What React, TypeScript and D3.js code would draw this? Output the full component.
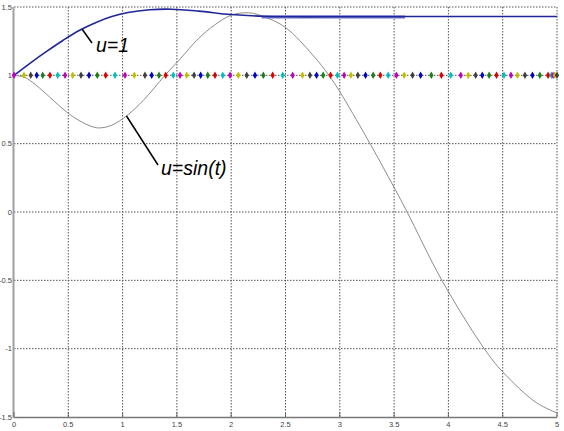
import React, { useEffect, useRef } from "react";
import * as d3 from "d3";

// simulation output
const tU1 = [0, 0.15, 0.3, 0.45, 0.6, 0.75, 0.9, 1.05, 1.25, 1.45, 1.7, 2.0, 2.3, 2.6, 3.0, 4.0, 5.0];
const yU1 = [1.0, 1.09, 1.175, 1.255, 1.328, 1.385, 1.43, 1.46, 1.48, 1.484, 1.47, 1.445, 1.432, 1.43, 1.43, 1.43, 1.43];

const tSin = [0, 0.1, 0.2, 0.33, 0.42, 0.52, 0.62, 0.7, 0.78, 0.9, 1.04, 1.19, 1.39, 1.53, 1.7, 1.85, 2.0, 2.16, 2.3, 2.5, 2.75, 2.9, 3.0, 3.25, 3.5, 3.62, 3.94, 4.33, 4.5, 4.81, 5.0];
const ySin = [1.0, 0.985, 0.93, 0.84, 0.775, 0.71, 0.66, 0.63, 0.615, 0.635, 0.706, 0.816, 1.0, 1.12, 1.27, 1.37, 1.44, 1.458, 1.43, 1.35, 1.15, 1.0, 0.88, 0.54, 0.18, 0.0, -0.5, -1.0, -1.17, -1.395, -1.47];

// solver time steps (markers on u = 1 reference)
const tSteps = [
  0, 0.092, 0.154, 0.209, 0.264, 0.331, 0.402, 0.47, 0.54, 0.617, 0.691, 0.767, 0.844, 0.93,
  1.022, 1.108, 1.206, 1.268, 1.335, 1.397, 1.467, 1.529, 1.59, 1.658, 1.719, 1.784, 1.851,
  1.922, 1.989, 2.066, 2.143, 2.219, 2.296, 2.382, 2.474, 2.566, 2.656, 2.725, 2.786, 2.847,
  2.915, 2.978, 3.04, 3.102, 3.166, 3.237, 3.307, 3.373, 3.445, 3.521, 3.593, 3.67, 3.744,
  3.843, 3.935, 4.022, 4.114, 4.182, 4.251, 4.312, 4.375, 4.443, 4.512, 4.576, 4.636, 4.705,
  4.774, 4.842, 4.918, 4.949, 4.964, 4.98, 5.0,
];
const markerColors = ["#bf00bf", "#bfbf00", "#404040", "#0000cc", "#1a7f1a", "#e00000", "#00bfbf"];

const xTicks = [0, 0.5, 1, 1.5, 2, 2.5, 3, 3.5, 4, 4.5, 5];
const yTicks = [-1.5, -1, -0.5, 0, 0.5, 1, 1.5];

export default function App() {
  const svgRef = useRef<SVGSVGElement>(null);

  useEffect(() => {
    if (!svgRef.current) return;
    const svg = d3.select(svgRef.current);
    svg.selectAll("*").remove();

    const x = d3.scaleLinear().domain([0, 5]).range([14, 557]);
    const y = d3.scaleLinear().domain([-1.5, 1.5]).range([417, 7]);

    svg.append("rect").attr("width", 564).attr("height", 431).attr("fill", "#fff");

    // grid
    const grid = svg.append("g").attr("stroke", "#555").attr("stroke-width", 1).attr("stroke-dasharray", "1.5,1.5");
    xTicks.slice(1).forEach((t) => {
      grid.append("line").attr("x1", x(t)).attr("x2", x(t)).attr("y1", y(1.5)).attr("y2", y(-1.5));
    });
    yTicks.slice(1).forEach((v) => {
      grid.append("line").attr("x1", x(0)).attr("x2", x(5)).attr("y1", y(v)).attr("y2", y(v));
    });

    // axes
    svg.append("line").attr("x1", x(0)).attr("x2", x(5)).attr("y1", 417.5).attr("y2", 417.5)
      .attr("stroke", "#777").attr("stroke-width", 1.5);
    svg.append("line").attr("x1", 13.5).attr("x2", 13.5).attr("y1", y(1.5)).attr("y2", 418)
      .attr("stroke", "#a0a0a0").attr("stroke-width", 2);
    svg.append("g").selectAll("line").data(xTicks).enter().append("line")
      .attr("x1", (d) => x(d)).attr("x2", (d) => x(d)).attr("y1", 417).attr("y2", 412)
      .attr("stroke", "#666").attr("stroke-width", 1);

    svg.append("g").selectAll("text").data(xTicks).enter().append("text")
      .attr("x", (d) => x(d)).attr("y", 427)
      .attr("text-anchor", "middle")
      .style("font-family", "Liberation Sans, Arial, sans-serif")
      .style("font-size", "7.5px").style("fill", "#444")
      .text((d) => String(d));
    svg.append("g").selectAll("text").data(yTicks).enter().append("text")
      .attr("x", 12).attr("y", (d) => y(d) + 2.5)
      .attr("text-anchor", "end")
      .style("font-family", "Liberation Sans, Arial, sans-serif")
      .style("font-size", "7.5px").style("fill", "#444")
      .text((d) => String(d));

    const line = d3.line<[number, number]>().x((d) => x(d[0])).y((d) => y(d[1])).curve(d3.curveCatmullRom.alpha(0.5));

    // u = sin(t) response
    const sinPts = tSin.map((t, i) => [t, ySin[i]] as [number, number]);
    svg.append("path").datum(sinPts).attr("d", line).attr("fill", "none")
      .attr("stroke", "#8c8c8c").attr("stroke-width", 1);

    // u = 1 response
    svg.append("line").attr("x1", x(2.28)).attr("x2", x(3.6)).attr("y1", y(1.43) + 0.5).attr("y2", y(1.43) + 0.5)
      .attr("stroke", "#6b6bd0").attr("stroke-width", 3);
    const u1Pts = tU1.map((t, i) => [t, yU1[i]] as [number, number]);
    svg.append("path").datum(u1Pts).attr("d", line).attr("fill", "none")
      .attr("stroke", "#1f2796").attr("stroke-width", 1.6);

    // step markers
    const diamond = d3.symbol().type(d3.symbolDiamond).size(16);
    svg.append("g").selectAll("path").data(tSteps).enter().append("path")
      .attr("d", diamond)
      .attr("transform", (d) => `translate(${x(d)},${y(1)})`)
      .attr("fill", (_d, i) => markerColors[i % markerColors.length]);

    // annotations
    const note = (x1: number, y1: number, x2: number, y2: number, tx: number, ty: number, label: string) => {
      svg.append("line").attr("x1", x1).attr("y1", y1).attr("x2", x2).attr("y2", y2)
        .attr("stroke", "#000").attr("stroke-width", 1.5);
      svg.append("text").attr("x", tx).attr("y", ty)
        .style("font-family", "Liberation Sans, Arial, sans-serif")
        .style("font-style", "italic").style("font-size", "19.5px").style("fill", "#000")
        .text(label);
    };
    note(82, 29, 92, 43, 96, 52, "u=1");
    note(126.5, 116, 158, 165, 161, 175, "u=sin(t)");
  }, []);

  return (
    <svg ref={svgRef} width={564} height={431}
      style={{ position: "fixed", left: 0, top: 0, display: "block" }} />
  );
}
